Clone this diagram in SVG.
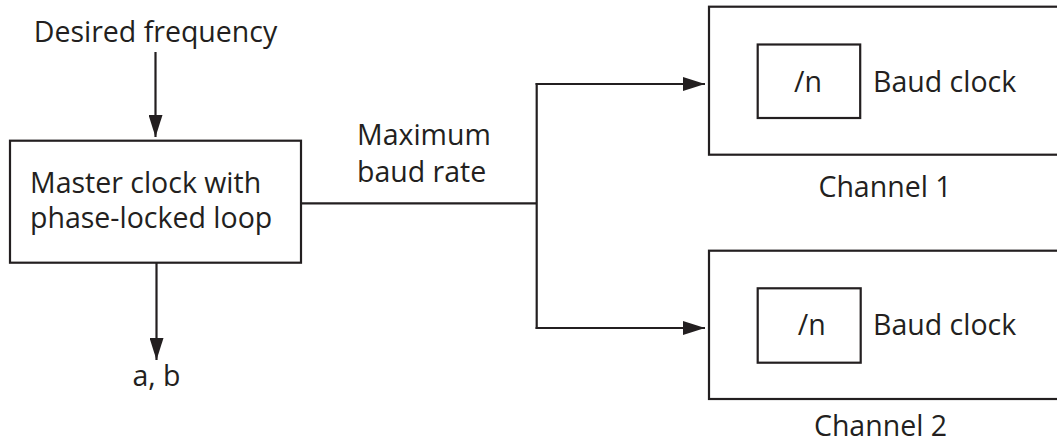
<svg xmlns="http://www.w3.org/2000/svg" width="1057" height="442" viewBox="0 0 1057 442">
<defs>
<style>
.box{fill:none;stroke:#231f20;stroke-width:2.2}
.ln{fill:none;stroke:#231f20;stroke-width:2.2}
.t{font-family:"Open Sans","Liberation Sans",sans-serif;font-size:28.5px;fill:#231f20}
.m{text-anchor:middle}
</style>
<marker id="ah" markerUnits="userSpaceOnUse" markerWidth="24" markerHeight="14" refX="22" refY="7" orient="auto" viewBox="0 0 24 14">
<path d="M0,0 L22,7 L0,14 Z" fill="#231f20"/>
</marker>
</defs>
<rect width="1057" height="442" fill="#ffffff"/>
<g id="connectors">
<line class="ln" x1="155.5" y1="52" x2="155.5" y2="137" marker-end="url(#ah)"/>
<line class="ln" x1="156.5" y1="263" x2="156.5" y2="360" marker-end="url(#ah)"/>
<line class="ln" x1="301" y1="203.3" x2="536.7" y2="203.3"/>
<line class="ln" x1="536.7" y1="83" x2="536.7" y2="329"/>
<line class="ln" x1="535.6" y1="84" x2="705" y2="84" marker-end="url(#ah)"/>
<line class="ln" x1="535.6" y1="328" x2="705" y2="328" marker-end="url(#ah)"/>
<text class="t" x="357" y="145">Maximum</text>
<text class="t" x="357" y="181.7">baud rate</text>
</g>
<g id="desired">
<text class="t m" x="155.5" y="42">Desired frequency</text>
</g>
<g id="master">
<rect class="box" x="10" y="140.7" width="291" height="122"/>
<text class="t" x="30" y="192.7">Master clock with</text>
<text class="t" x="30" y="228">phase-locked loop</text>
</g>
<g id="ab">
<text class="t m" x="156.5" y="386">a, b</text>
</g>
<g id="channel1">
<rect class="box" x="709" y="6.7" width="360" height="148"/>
<rect class="box" x="757.7" y="44.5" width="102.5" height="73.5"/>
<text class="t m" x="808" y="92">/n</text>
<text class="t" x="873" y="92">Baud clock</text>
<text class="t m" x="885" y="197">Channel 1</text>
</g>
<g id="channel2">
<rect class="box" x="709" y="250.7" width="360" height="148.3"/>
<rect class="box" x="757.7" y="288.3" width="103" height="74.4"/>
<text class="t m" x="811.7" y="335">/n</text>
<text class="t" x="873" y="335">Baud clock</text>
<text class="t m" x="880.5" y="435.5">Channel 2</text>
</g>
</svg>
